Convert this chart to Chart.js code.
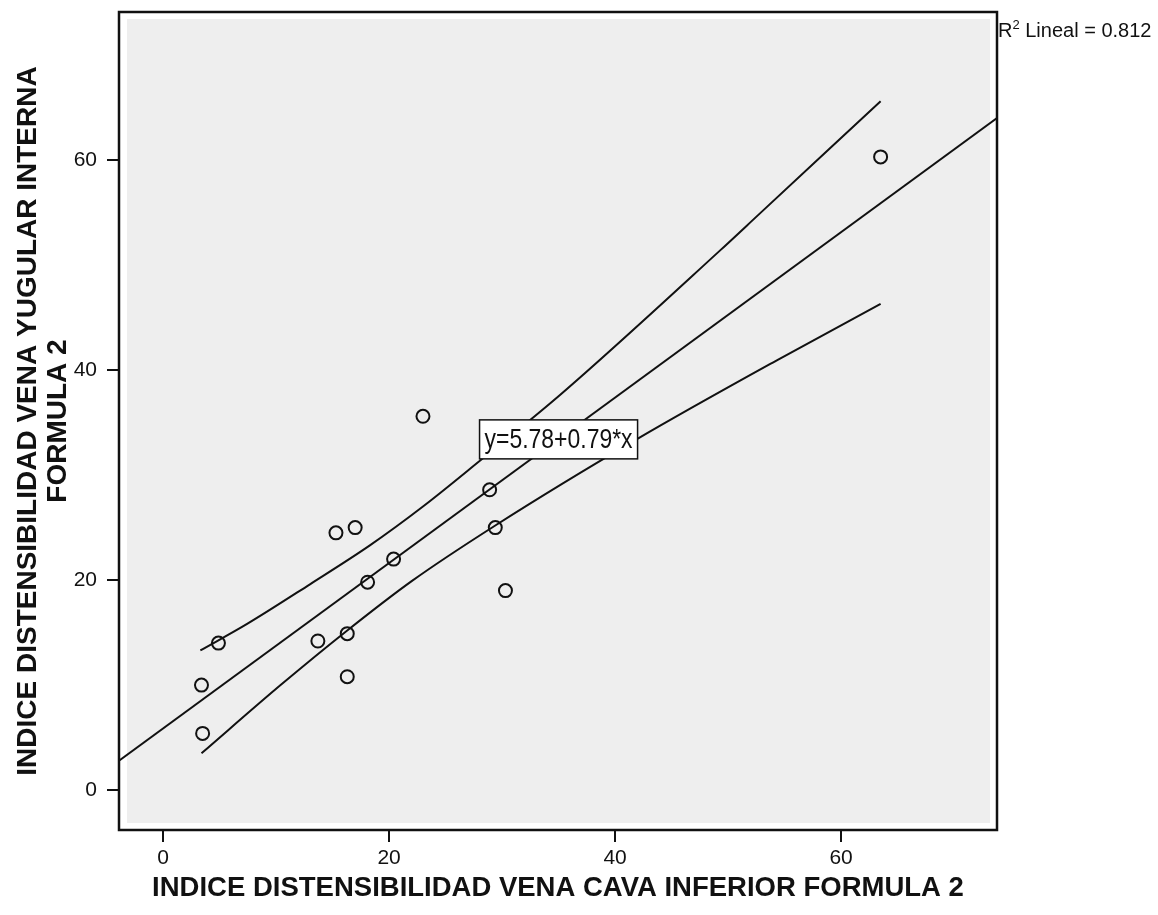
<!DOCTYPE html>
<html>
<head>
<meta charset="utf-8">
<script src="https://cdn.jsdelivr.net/npm/chart.js@4.4.1/dist/chart.umd.min.js"></script>
<style>
  html, body { margin: 0; padding: 0; background: #fff; }
  #wrap { width: 1158px; height: 915px; }
</style>
</head>
<body>
<div id="wrap"><canvas id="chart" width="1158" height="915"></canvas></div>
<script>
// values (x = vena cava index, y = yugular index)
const cavaIndex = [3.4, 3.5, 4.9, 13.7, 15.3, 16.3, 16.3, 17.0, 18.1, 20.4, 23.0, 28.9, 29.4, 30.3, 63.5];
const yugularIndex = [10.0, 5.4, 14.0, 14.2, 24.5, 14.9, 10.8, 25.0, 19.8, 22.0, 35.6, 28.6, 25.0, 19.0, 60.3];

// fitted line, ends at the plot edges
const fitX = [-3.9, 73.8];
const fitY = [2.8, 64.0];

// mean confidence band
const upperX = [3.3, 7.4, 13.0, 18.3, 23.0, 28.2, 35.1, 49.3, 52.8, 63.5];
const upperY = [13.3, 15.8, 19.6, 23.3, 27.0, 31.5, 37.6, 51.4, 54.9, 65.6];
const lowerX = [3.4, 10.4, 16.3, 22.0, 29.4, 41.9, 54.6, 63.5];
const lowerY = [3.5, 10.0, 15.2, 19.9, 25.2, 33.4, 41.1, 46.3];

const xTicks = [0, 20, 40, 60];
const yTicks = [0, 20, 40, 60];
const xRange = [-3.9, 73.8];
const yRange = [-3.8, 74.1];

const xTitle = "INDICE DISTENSIBILIDAD VENA CAVA INFERIOR FORMULA 2";
const yTitle = ["INDICE DISTENSIBILIDAD VENA YUGULAR INTERNA", "FORMULA 2"];
const equationText = "y=5.78+0.79*x";
const equationAt = [35.0, 33.4];
const r2Value = "0.812";

const sans = "'Liberation Sans', Arial, sans-serif";

const toPoints = (xs, ys) => xs.map((x, i) => ({ x, y: ys[i] }));

const plotFrame = {
  id: "plotFrame",
  beforeDraw(chart) {
    const { ctx, chartArea: a } = chart;
    ctx.save();
    ctx.fillStyle = "#ffffff";
    ctx.fillRect(a.left, a.top, a.width, a.height);
    ctx.fillStyle = "#eeeeee";
    ctx.fillRect(a.left + 8, a.top + 7, a.width - 15, a.height - 14);
    ctx.restore();
  },
  afterDraw(chart) {
    const { ctx, chartArea: a, scales } = chart;
    ctx.save();
    ctx.strokeStyle = "#111";
    ctx.lineWidth = 2.5;
    ctx.strokeRect(a.left, a.top, a.width, a.height);

    // equation label, text squeezed to the narrow face of the original
    const squeeze = 0.85;
    ctx.font = `27px ${sans}`;
    const w = ctx.measureText(equationText).width * squeeze + 10;
    const h = 39;
    const cx = scales.x.getPixelForValue(equationAt[0]);
    const cy = scales.y.getPixelForValue(equationAt[1]);
    ctx.fillStyle = "#fff";
    ctx.fillRect(cx - w / 2, cy - h / 2, w, h);
    ctx.lineWidth = 1.5;
    ctx.strokeRect(cx - w / 2, cy - h / 2, w, h);
    ctx.fillStyle = "#111";
    ctx.textAlign = "center";
    ctx.textBaseline = "middle";
    ctx.save();
    ctx.translate(cx, cy + 1);
    ctx.scale(squeeze, 1);
    ctx.fillText(equationText, 0, 0);
    ctx.restore();

    // R² note outside the top right corner
    ctx.textAlign = "left";
    ctx.textBaseline = "alphabetic";
    let x = a.right + 1;
    ctx.font = `20px ${sans}`;
    ctx.fillText("R", x, a.top + 25);
    x += ctx.measureText("R").width;
    ctx.font = `13px ${sans}`;
    ctx.fillText("2", x, a.top + 17);
    x += ctx.measureText("2").width;
    ctx.font = `20px ${sans}`;
    ctx.fillText(` Lineal = ${r2Value}`, x, a.top + 25);
    ctx.restore();
  },
};

const lineStyle = {
  showLine: true,
  pointRadius: 0,
  borderColor: "#111",
  borderWidth: 2,
  fill: false,
};

new Chart(document.getElementById("chart"), {
  type: "scatter",
  data: {
    datasets: [
      {
        label: "Casos",
        data: toPoints(cavaIndex, yugularIndex),
        pointRadius: 6.5,
        pointBorderWidth: 2,
        borderColor: "#111",
        backgroundColor: "rgba(0,0,0,0)",
        showLine: false,
      },
      { ...lineStyle, label: "Ajuste", data: toPoints(fitX, fitY) },
      {
        ...lineStyle,
        label: "IC superior",
        data: toPoints(upperX, upperY),
        cubicInterpolationMode: "monotone",
      },
      {
        ...lineStyle,
        label: "IC inferior",
        data: toPoints(lowerX, lowerY),
        cubicInterpolationMode: "monotone",
      },
    ],
  },
  options: {
    responsive: false,
    animation: false,
    events: [],
    layout: { padding: { left: 0, top: 12, right: 161, bottom: 0 } },
    plugins: {
      legend: { display: false },
      tooltip: { enabled: false },
    },
    scales: {
      x: {
        type: "linear",
        min: xRange[0],
        max: xRange[1],
        afterBuildTicks: (scale) => {
          scale.ticks = xTicks.map((v) => ({ value: v }));
        },
        afterFit: (scale) => {
          scale.height = 85;
          scale.paddingLeft = 0;
          scale.paddingRight = 0;
        },
        grid: {
          drawOnChartArea: false,
          drawTicks: true,
          tickLength: 12,
          color: "#111",
          lineWidth: 2,
        },
        border: { display: false },
        ticks: {
          color: "#111",
          padding: 4,
          maxRotation: 0,
          font: { family: sans, size: 21 },
        },
        title: {
          display: true,
          text: xTitle,
          color: "#111",
          padding: { top: 0, bottom: 10 },
          font: { family: sans, size: 27.5, weight: "bold" },
        },
      },
      y: {
        type: "linear",
        min: yRange[0],
        max: yRange[1],
        afterBuildTicks: (scale) => {
          scale.ticks = yTicks.map((v) => ({ value: v }));
        },
        afterFit: (scale) => {
          scale.width = 119;
          scale.paddingTop = 0;
          scale.paddingBottom = 0;
        },
        grid: {
          drawOnChartArea: false,
          drawTicks: true,
          tickLength: 12,
          color: "#111",
          lineWidth: 2,
        },
        border: { display: false },
        ticks: {
          color: "#111",
          padding: 10,
          font: { family: sans, size: 21 },
        },
        title: {
          display: true,
          text: yTitle,
          color: "#111",
          padding: { top: 14, bottom: 0 },
          font: { family: sans, size: 28, weight: "bold", lineHeight: 1.05 },
        },
      },
    },
  },
  plugins: [plotFrame],
});
</script>
</body>
</html>
